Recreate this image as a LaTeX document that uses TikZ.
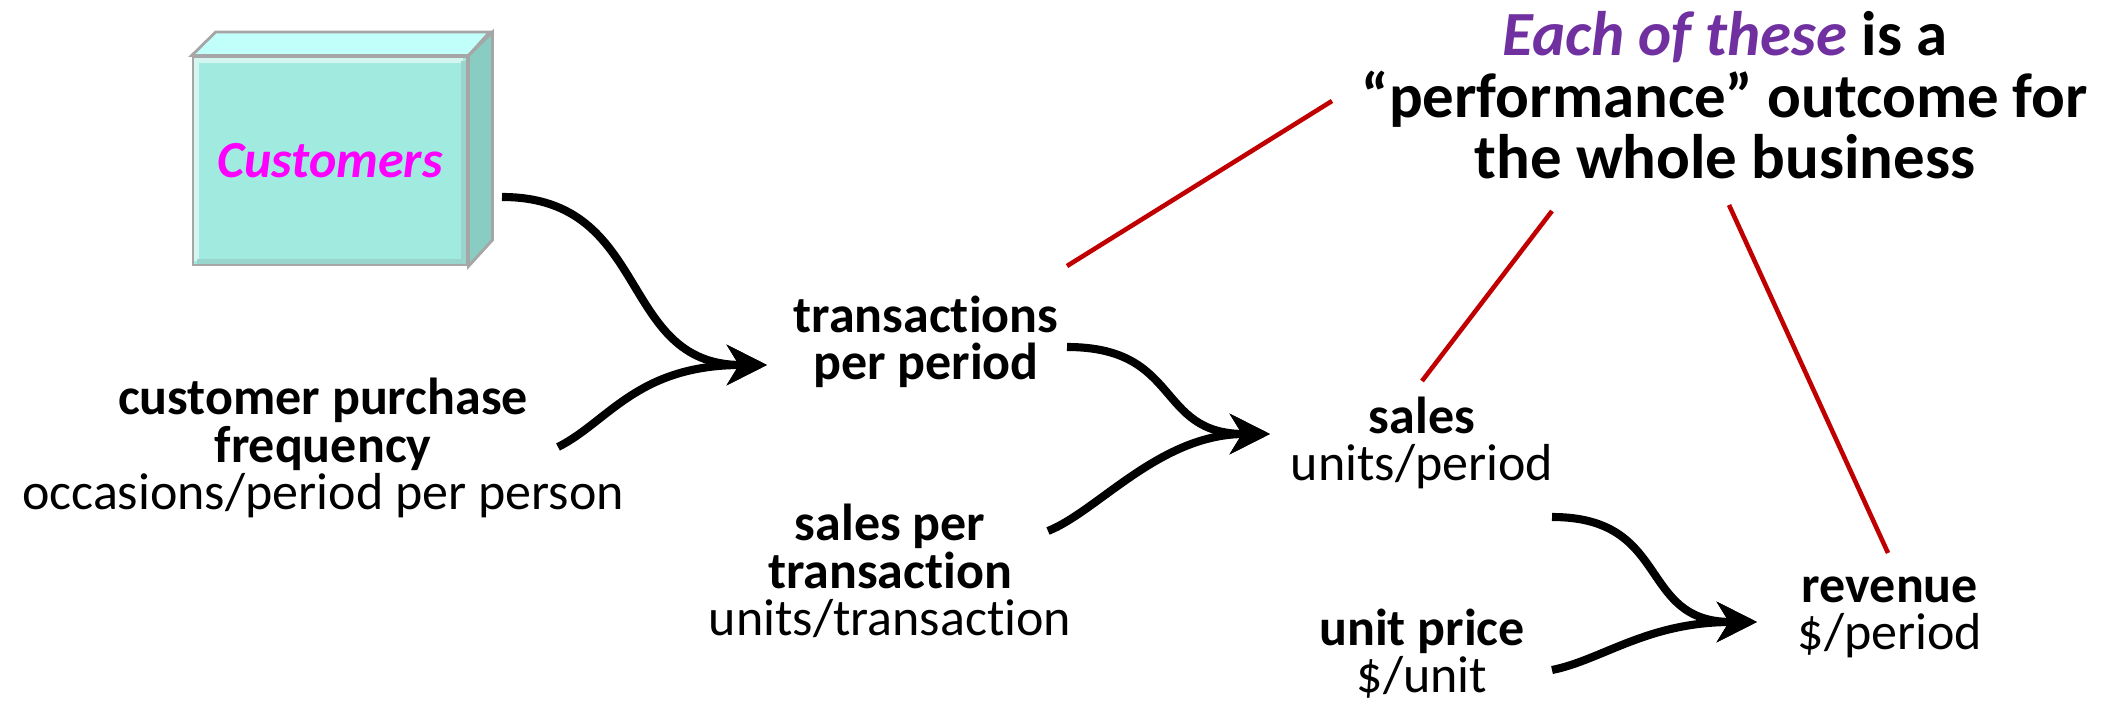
\documentclass[tikz,border=0pt]{standalone}
\usepackage{fontspec}
\setmainfont{Carlito}[Ligatures={TeX,NoCommon}]
\usetikzlibrary{arrows.meta}

\definecolor{boxfront}{RGB}{160,234,224}
\definecolor{boxtop}{RGB}{192,255,250}
\definecolor{boxside}{RGB}{136,204,194}
\definecolor{custmagenta}{RGB}{255,0,255}
\definecolor{notepurple}{RGB}{112,48,160}
\definecolor{linkred}{RGB}{192,0,0}

\newcommand{\bodysize}{\fontsize{14.8}{13.6}\selectfont}
\newcommand{\notesize}{\fontsize{17.9}{17.6}\selectfont}

\begin{document}
\begin{tikzpicture}[y=-1cm,
    term/.style={align=center, inner sep=0pt, anchor=base, font=\bodysize},
    flow/.style={line width=2.3pt, -{Stealth[length=4mm, width=4mm, inset=1.2mm]}},
    pointer/.style={draw=linkred, line width=1.3pt}]
    \useasboundingbox (0,0) rectangle (21.1,7.11);

    % customers box with its top and side faces
    \node[draw=gray!70, line width=0.8pt, fill=boxfront, minimum width=2.74cm,
          minimum height=2.08cm, inner sep=0pt, text=custmagenta,
          font=\bodysize\bfseries\itshape] (cust) at (3.30,1.61) {Customers};
    \filldraw[fill=boxtop, draw=gray!70, line width=0.8pt] (cust.north west) -- ++(0.24,-0.235)
        -- ++(2.74,0) -- (cust.north east) -- cycle;
    \filldraw[fill=boxside, draw=gray!70, line width=0.8pt] (cust.north east) -- ++(0.24,-0.235)
        -- ++(0,2.08) -- (cust.south east) -- cycle;
    % bevel on the front face
    \draw[white!55!boxfront, line width=1.5pt] ([shift={(0.05,-0.05)}]cust.south west)
        -- ([shift={(0.05,0.05)}]cust.north west) -- ([shift={(-0.05,0.05)}]cust.north east);
    \draw[boxfront!80!gray, line width=1.5pt] ([shift={(-0.05,0.05)}]cust.north east)
        -- ([shift={(-0.05,-0.05)}]cust.south east) -- ([shift={(0.05,-0.05)}]cust.south west);

    % labels, placed by the baseline of their last line
    \node[term] (freq) at (3.23,5.10) {\textbf{customer purchase}\\\textbf{frequency}\\occasions/period per person};
    \node[term] (trans) at (9.26,3.80) {\textbf{transactions}\\\textbf{per period}};
    \node[term] (spt) at (8.90,6.36) {\textbf{sales per}\\\textbf{transaction}\\units/transaction};
    \node[term] (sales) at (14.22,4.81) {\textbf{sales}\\units/period};
    \node[term] (price) at (14.22,6.93) {\textbf{unit price}\\\$/unit};
    \node[term] (rev) at (18.90,6.50) {\textbf{revenue}\\\$/period};
    \node[term, font=\notesize\bfseries] (note) at (17.25,1.79)
        {\textcolor{notepurple}{\itshape Each of these} is a\\“performance” outcome for\\the whole business};

    % tails and joins of the flow arrows
    \coordinate (t1) at (5.02,1.97);
    \coordinate (t2) at (5.58,4.47);
    \coordinate (j1) at (7.67,3.65);
    \coordinate (t3) at (10.67,3.47);
    \coordinate (t4) at (10.48,5.31);
    \coordinate (j2) at (12.70,4.34);
    \coordinate (t5) at (15.52,5.17);
    \coordinate (t6) at (15.52,6.70);
    \coordinate (j3) at (17.57,6.22);

    \draw[flow] (t1) .. controls +(1.5,0) and +(-1.5,0) .. (j1);
    \draw[flow] (t2) .. controls +(0.5,-0.25) and +(-1.3,0) .. (j1);
    \draw[flow] (t3) .. controls +(1.15,0) and +(-1.15,0) .. (j2);
    \draw[flow] (t4) .. controls +(0.5,-0.2) and +(-1.1,0) .. (j2);
    \draw[flow] (t5) .. controls +(1.2,0) and +(-1.2,0) .. (j3);
    \draw[flow] (t6) .. controls +(0.5,-0.1) and +(-1.1,0) .. (j3);

    % red pointers from the note
    \coordinate (n1) at (13.32,1.01);
    \coordinate (n2) at (15.52,2.11);
    \coordinate (n3) at (17.29,2.05);
    \coordinate (s1) at (10.67,2.66);
    \coordinate (s2) at (14.22,3.81);
    \coordinate (s3) at (18.88,5.53);
    \draw[pointer] (s1) -- (n1);
    \draw[pointer] (s2) -- (n2);
    \draw[pointer] (s3) -- (n3);
\end{tikzpicture}
\end{document}
